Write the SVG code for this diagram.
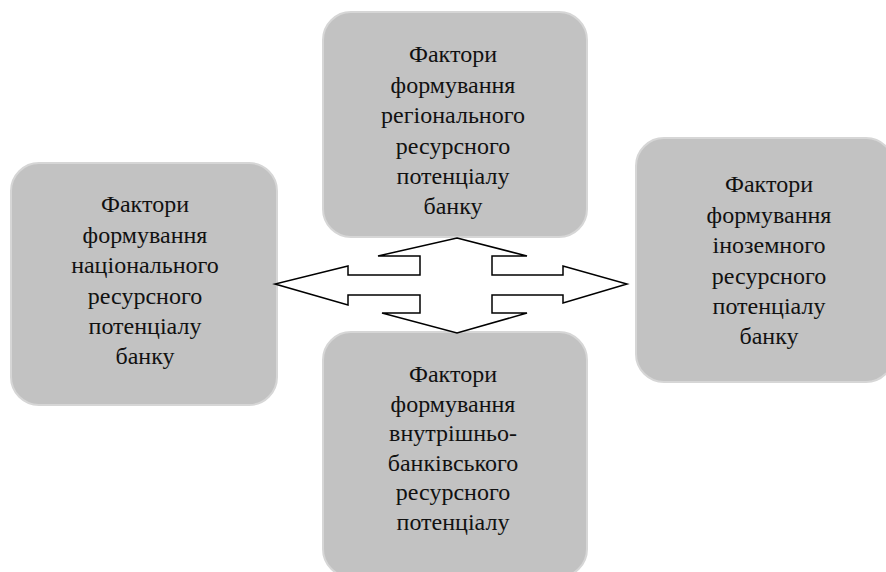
<svg xmlns="http://www.w3.org/2000/svg" width="886" height="572" viewBox="0 0 886 572">
  <style>
    .box { fill: #c2c2c2; stroke: #d6d6d6; stroke-width: 2; }
    .label { font-size: 24px; fill: #111111; text-anchor: middle; }
    .arrow { fill: #ffffff; stroke: #000000; stroke-width: 1.5; stroke-linejoin: miter; }
  </style>
  <rect width="886" height="572" fill="#ffffff"/>

  <g font-family="Liberation Serif, Times New Roman, DejaVu Serif, serif">
  <g id="node-national">
    <rect class="box" x="11" y="163" width="266" height="242" rx="28" ry="28"/>
    <text class="label" x="145" y="212">Фактори</text>
    <text class="label" x="145" y="242.5">формування</text>
    <text class="label" x="145" y="273">національного</text>
    <text class="label" x="145" y="303.5">ресурсного</text>
    <text class="label" x="145" y="334">потенціалу</text>
    <text class="label" x="145" y="364">банку</text>
  </g>

  <g id="node-regional">
    <rect class="box" x="323" y="12" width="264" height="225" rx="28" ry="28"/>
    <text class="label" x="453" y="62">Фактори</text>
    <text class="label" x="453" y="92.5">формування</text>
    <text class="label" x="453" y="123">регіонального</text>
    <text class="label" x="453" y="153.5">ресурсного</text>
    <text class="label" x="453" y="184">потенціалу</text>
    <text class="label" x="453" y="214">банку</text>
  </g>

  <g id="node-foreign">
    <rect class="box" x="636" y="138" width="258" height="244" rx="28" ry="28"/>
    <text class="label" x="769" y="192">Фактори</text>
    <text class="label" x="769" y="222.5">формування</text>
    <text class="label" x="769" y="253">іноземного</text>
    <text class="label" x="769" y="283.5">ресурсного</text>
    <text class="label" x="769" y="314">потенціалу</text>
    <text class="label" x="769" y="344">банку</text>
  </g>

  <g id="node-internal">
    <rect class="box" x="323" y="332" width="264" height="245" rx="28" ry="28"/>
    <text class="label" x="453" y="382">Фактори</text>
    <text class="label" x="453" y="411.5">формування</text>
    <text class="label" x="453" y="441">внутрішньо-</text>
    <text class="label" x="453" y="470.5">банківського</text>
    <text class="label" x="453" y="500">ресурсного</text>
    <text class="label" x="453" y="530">потенціалу</text>
  </g>
  </g>

  <g id="connectors">
    <!-- four-way block arrow linking the four factor groups -->
    <polygon class="arrow" points="457,238 527,256 492,256 492,275 563,275 563,266 627,284 563,303 563,295 492,295 492,313 527,313 457,333 382,313 420,313 420,295 348,295 348,305 275,284 348,266 348,275 420,275 420,256 378,256"/>
  </g>
</svg>
